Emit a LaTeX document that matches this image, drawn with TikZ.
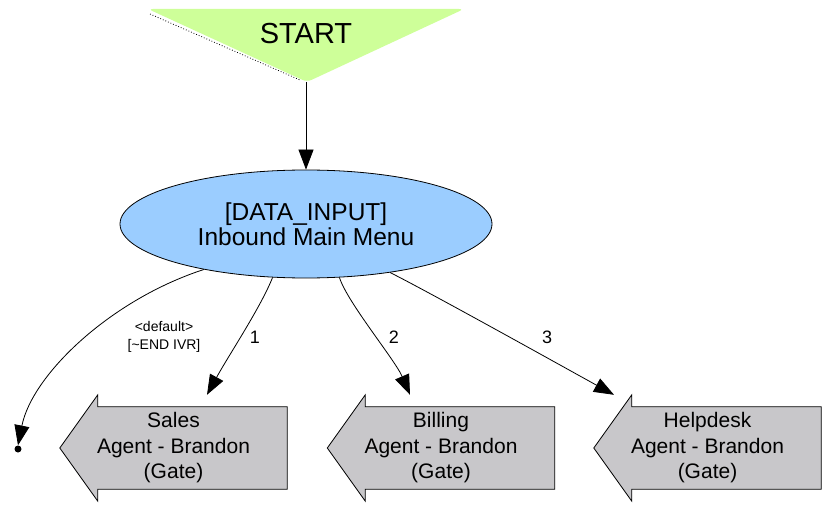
\documentclass[tikz,border=0pt]{standalone}
\usepackage{fontspec}
\setmainfont{Liberation Sans}
\usetikzlibrary{arrows.meta,shapes.geometric,backgrounds}
\definecolor{startgreen}{RGB}{206,255,153}
\definecolor{menublue}{RGB}{155,205,255}
\definecolor{gategray}{RGB}{200,199,202}
\newcommand\gateshape[1]{%
  \draw[fill=gategray, line width=0.8pt] (#1.west) -- ([xshift=38pt]#1.north west) -- ([xshift=38pt,yshift=-12pt]#1.north west) -- ([yshift=-12pt]#1.north east) -- ([yshift=12pt]#1.south east) -- ([xshift=38pt,yshift=12pt]#1.south west) -- ([xshift=38pt]#1.south west) -- cycle;}
\begin{document}
\begin{tikzpicture}[x=1pt,y=-1pt,
  edge/.style={draw=black, line width=0.8pt, -{Triangle[length=20pt,width=15pt]}},
  gatebox/.style={draw=none, minimum width=227pt, minimum height=106pt, inner sep=0pt, align=center, font=\fontsize{21}{25.5}\selectfont},
  lbl/.style={font=\fontsize{18}{20}\selectfont, inner sep=0pt},
  ]
\useasboundingbox (0,0) rectangle (827,505);
% START
\fill[startgreen, rounded corners=5pt] (148,9) -- (464,9) -- (307,82) -- cycle;
\draw[dotted, line width=0.8pt] (150,14) -- (300,80);
\node[font=\fontsize{29}{32}\selectfont, inner sep=0pt] (start) at (306,34) {START};
\coordinate (startapex) at (306,82);
% menu
\node[ellipse, draw, line width=0.8pt, fill=menublue, minimum width=372pt, minimum height=108pt, inner sep=0pt, align=center, font=\fontsize{24.5}{25.5}\selectfont] (menu) at (306,224) {[DATA\_INPUT]\\Inbound Main Menu};
% gates
\node[gatebox] (sales) at (173.5,448) {Sales\\Agent - Brandon\\(Gate)};
\node[gatebox] (billing) at (441,448) {Billing\\Agent - Brandon\\(Gate)};
\node[gatebox] (help) at (707.5,448) {Helpdesk\\Agent - Brandon\\(Gate)};
\begin{pgfonlayer}{background}
\gateshape{sales}
\gateshape{billing}
\gateshape{help}
\end{pgfonlayer}
% end point
\node[circle, fill=black, inner sep=0pt, minimum size=7pt] (endpt) at (18,449) {};
% edges
\draw[edge] (startapex) -- (menu.north);
\draw[edge] (menu.204) .. controls (110,300) and (32,375) .. (endpt.north);
\draw[edge] (menu.238) .. controls +(-12,30) and +(22,-40) .. ([xshift=33.5pt]sales.north);
\draw[edge] (menu.302) .. controls +(8,25) and +(-15,-35) .. ([xshift=-31pt]billing.north);
\draw[edge] (menu.330) .. controls +(40,20) and +(-40,-22) .. ([xshift=-93.5pt]help.north);
% labels
\node[font=\fontsize{14}{18}\selectfont, align=center, inner sep=0pt] (deflbl) at (164,337) {<default>\\{[}\textasciitilde END IVR{]}};
\node[lbl] (l1) at (255,337) {1};
\node[lbl] (l2) at (394,337) {2};
\node[lbl] (l3) at (547,337) {3};
\end{tikzpicture}
\end{document}
